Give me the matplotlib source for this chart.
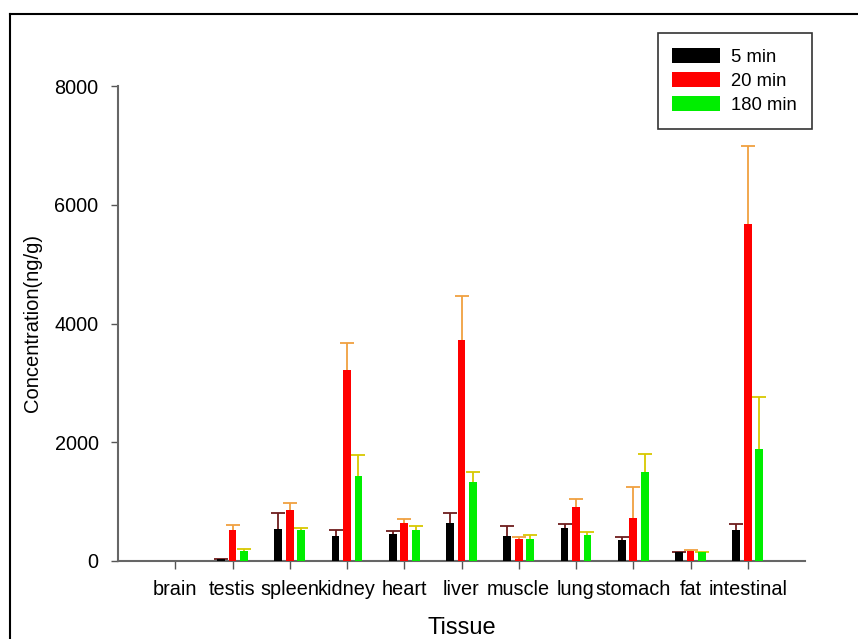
import numpy as np
import matplotlib
matplotlib.use("Agg")
import matplotlib.pyplot as plt
from matplotlib.lines import Line2D

plt.rcParams['font.family'] = ['Liberation Sans', 'DejaVu Sans']

tissues = ['brain', 'testis', 'spleen', 'kidney', 'heart', 'liver',
           'muscle', 'lung', 'stomach', 'fat', 'intestinal']
series = ['5 min', '20 min', '180 min']

mean_5 = [0, 40, 545, 420, 455, 635, 420, 560, 355, 145, 520]
err_5 = [0, 0, 260, 100, 50, 170, 175, 70, 45, 0, 100]
mean_20 = [0, 520, 855, 3215, 635, 3720, 365, 905, 720, 165, 5675]
err_20 = [0, 90, 115, 450, 80, 740, 45, 135, 530, 15, 1315]
mean_180 = [0, 170, 520, 1435, 520, 1325, 365, 440, 1500, 145, 1885]
err_180 = [0, 30, 35, 350, 70, 180, 65, 45, 300, 5, 870]

means = [mean_5, mean_20, mean_180]
errs = [err_5, err_20, err_180]
bar_colors = ['#000000', '#ff0000', '#00ee00']
err_colors = ['#6e1c1c', '#f0a040', '#d8c800']

W, H = 858, 639
fig = plt.figure(figsize=(W / 100, H / 100), dpi=100)

# outer frame (left and top edges visible)
fig.add_artist(Line2D([10 / W, 10 / W], [0, 1 - 13.5 / H], transform=fig.transFigure,
                      color='black', lw=1.5))
fig.add_artist(Line2D([10 / W, 1], [1 - 13.5 / H, 1 - 13.5 / H], transform=fig.transFigure,
                      color='black', lw=1.5))

ax = fig.add_axes([118 / W, (H - 561) / H, (805 - 118) / W, (561 - 86) / H])

x = np.arange(1, len(tissues) + 1)
step = 0.2
width = 0.135
for i in range(3):
    pos = x + (i - 1) * step
    m = np.array(means[i])
    e = np.array(errs[i])
    ax.bar(pos, m, width=width, color=bar_colors[i], edgecolor='none',
           label=series[i], zorder=3)
    eb = ax.errorbar(pos, m, yerr=[np.zeros_like(e), e], fmt='none', ecolor=err_colors[i],
                     elinewidth=1.3, capsize=4.7, capthick=1.3, zorder=2)
    # only the upper cap is drawn
    eb[1][0].set_visible(False)

ax.set_xlim(0, 12)
ax.set_ylim(0, 8000)
ax.set_yticks([0, 2000, 4000, 6000, 8000])
ax.set_xticks(x)
ax.set_xticklabels(tissues, fontsize=14.3)
ax.tick_params(axis='y', labelsize=14.3, length=5, width=1, color='#555555', pad=9)
ax.tick_params(axis='x', length=6, width=1, color='#555555', pad=8)

for s in ['top', 'right']:
    ax.spines[s].set_visible(False)
for s in ['left', 'bottom']:
    ax.spines[s].set_color('#666666')
    ax.spines[s].set_linewidth(1.5)

ax.set_xlabel('Tissue', fontsize=17, labelpad=13)
ax.set_ylabel('Concentration(ng/g)', fontsize=14.5, labelpad=9)

leg = ax.legend(loc='upper right', bbox_to_anchor=(812 / W, 1 - 33 / H),
                bbox_transform=fig.transFigure, fontsize=13.3, frameon=True,
                fancybox=False, edgecolor='black', handlelength=2.6, handleheight=0.85,
                borderpad=0.8, labelspacing=0.35, handletextpad=0.6, borderaxespad=0)
leg.get_frame().set_linewidth(1.2)

fig.savefig('out.png', dpi=100)
